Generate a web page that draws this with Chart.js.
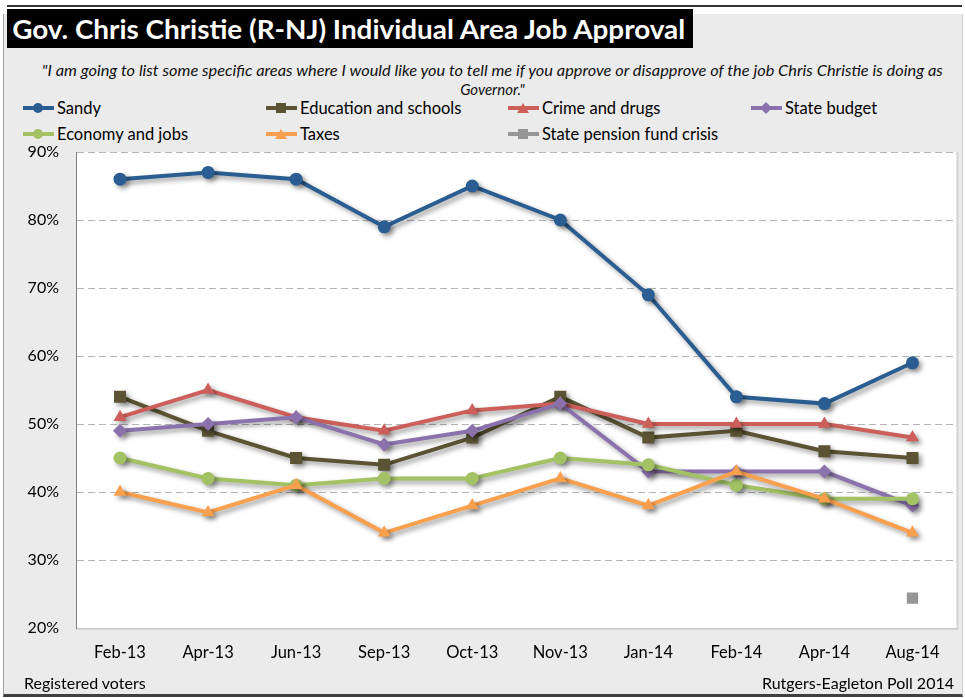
<!DOCTYPE html>
<html>
<head>
<meta charset="utf-8">
<script src="https://cdn.jsdelivr.net/npm/chart.js@4.4.1/dist/chart.umd.min.js"></script>
<style>
  body { margin: 0; background: #fff; font-family: Lato, sans-serif; }
  #wrap { position: relative; width: 965px; height: 698px; overflow: hidden; }
  #panel { position: absolute; left: 3px; top: 14px; width: 958px; height: 680px; background: #ebebeb;
           border-left: 1px solid #a0a0a0; border-right: 1px solid #d0d0d0; border-bottom: 3px solid #404040; }
  #topline { position: absolute; left: 7px; top: 5px; width: 955px; height: 2px; background: #333; }
  #title { position: absolute; left: 7px; top: 9px; width: 686px; height: 39px; background: #000; color: #fff;
           font-size: 27px; font-weight: bold; line-height: 39px; white-space: nowrap; }
  #title span { display: inline-block; padding-left: 5px; transform-origin: left center; }
  #sub { position: absolute; left: 0; top: 61px; width: 985px; text-align: center; font-style: italic;
         font-size: 15px; line-height: 19px; color: #111; }
  #sub span { display: inline-block; white-space: nowrap; }
  .leg { position: absolute; font-size: 16.5px; line-height: 18px; white-space: nowrap; color: #000; }
  .leg .ln { position: absolute; left: 0; top: 7px; width: 31px; height: 4px; }
  .leg .mk { position: absolute; left: 10px; top: 4px; width: 10px; height: 10px; }
  .leg .tx { position: absolute; left: 34px; top: 0; }
  .foot { position: absolute; top: 673px; font-size: 16px; color: #000; white-space: nowrap; }
  canvas { position: absolute; left: 0; top: 0; }
</style>
</head>
<body>
<div id="wrap">
  <div id="panel"></div>
  <div id="topline"></div>
  <div id="title"><span data-w="673">Gov. Chris Christie (R-NJ) Individual Area Job Approval</span></div>
  <div id="sub"><span data-w="901">"I am going to list some specific areas where I would like you to tell me if you approve or disapprove of the job Chris Christie is doing as</span><br><span>Governor."</span></div>
  <div id="legend"></div>
  <canvas id="chart" width="965" height="698"></canvas>
  <div class="foot" style="left:24px">Registered voters</div>
  <div class="foot" style="right:11px">Rutgers-Eagleton Poll 2014</div>
</div>
<script>
// datos
const categories = ['Feb-13', 'Apr-13', 'Jun-13', 'Sep-13', 'Oct-13', 'Nov-13', 'Jan-14', 'Feb-14', 'Apr-14', 'Aug-14'];
const sandy     = [86, 87, 86, 79, 85, 80, 69, 54, 53, 59];
const education = [54, 49, 45, 44, 48, 54, 48, 49, 46, 45];
const crime     = [51, 55, 51, 49, 52, 53, 50, 50, 50, 48];
const budget    = [49, 50, 51, 47, 49, 53, 43, 43, 43, 38];
const economy   = [45, 42, 41, 42, 42, 45, 44, 41, 39, 39];
const taxes     = [40, 37, 41, 34, 38, 42, 38, 43, 39, 34];
const pension   = [null, null, null, null, null, null, null, null, null, 24.4];
const yTicks = [20, 30, 40, 50, 60, 70, 80, 90];

const series = [
  { label: 'Sandy', data: sandy, color: '#2a5d91', style: 'circle', r: 6.5, order: 7 },
  { label: 'Education and schools', data: education, color: '#5b5333', style: 'rect', r: 8.5, order: 6 },
  { label: 'Crime and drugs', data: crime, color: '#cd5f5a', style: 'triangle', r: 7.5, order: 5 },
  { label: 'State budget', data: budget, color: '#8c72ad', style: 'rectRot', r: 7, order: 4 },
  { label: 'Economy and jobs', data: economy, color: '#a3c264', style: 'circle', r: 6.5, order: 3 },
  { label: 'Taxes', data: taxes, color: '#f9a04f', style: 'triangle', r: 7.5, order: 2 },
  { label: 'State pension fund crisis', data: pension, color: '#969696', style: 'rect', r: 8, order: 1, noLine: true }
];

// ajustar ancho de textos largos
document.querySelectorAll('[data-w]').forEach(el => {
  const w = el.getBoundingClientRect().width - (parseFloat(getComputedStyle(el).paddingLeft) || 0);
  const target = Number(el.dataset.w);
  if (w > 0) el.style.transform = 'scaleX(' + (target / w) + ')';
});

// leyenda
const legendPos = [[23, 99], [266, 99], [508, 99], [751, 99], [23, 125], [266, 125], [508, 125]];
const legend = document.getElementById('legend');
series.forEach((s, i) => {
  const item = document.createElement('div');
  item.className = 'leg';
  item.style.left = legendPos[i][0] + 'px';
  item.style.top = legendPos[i][1] + 'px';
  let mk = 'background:' + s.color + ';';
  if (s.style === 'circle') mk += 'border-radius:50%;';
  if (s.style === 'triangle') mk += 'clip-path:polygon(50% 0,100% 100%,0 100%);width:12px;left:9px;';
  if (s.style === 'rectRot') mk += 'transform:rotate(45deg) scale(0.85);';
  item.innerHTML = '<span class="ln" style="background:' + s.color + '"></span>' +
    '<span class="mk" style="' + mk + '"></span><span class="tx">' + s.label + '</span>';
  legend.appendChild(item);
});

const plotBg = {
  id: 'plotBg',
  beforeDraw(chart) {
    const { ctx, chartArea: a } = chart;
    ctx.save();
    ctx.fillStyle = '#fff';
    ctx.fillRect(a.left, a.top, a.right - a.left, a.bottom - a.top);
    ctx.strokeStyle = '#d4d4d4';
    ctx.lineWidth = 2;
    ctx.beginPath();
    ctx.moveTo(a.right + 1, a.top);
    ctx.lineTo(a.right + 1, a.bottom + 1);
    ctx.lineTo(a.left, a.bottom + 1);
    ctx.stroke();
    ctx.restore();
  }
};

const shadow = {
  id: 'shadow',
  beforeDatasetDraw(chart, args) {
    const ctx = chart.ctx;
    ctx.save();
    if (args.meta.label !== 'State pension fund crisis') {
      ctx.shadowColor = 'rgba(0,0,0,0.4)';
      ctx.shadowBlur = 5;
      ctx.shadowOffsetX = 3;
      ctx.shadowOffsetY = 3;
    }
  },
  afterDatasetDraw(chart) {
    chart.ctx.restore();
  }
};

Chart.defaults.font.family = 'Lato, sans-serif';
Chart.defaults.font.size = 16;
Chart.defaults.color = '#000';

new Chart(document.getElementById('chart'), {
  type: 'line',
  data: {
    labels: categories,
    datasets: series.map(s => ({
      label: s.label,
      data: s.data,
      order: s.order,
      borderColor: s.color,
      backgroundColor: s.color,
      pointBackgroundColor: s.color,
      pointBorderColor: s.color,
      pointBorderWidth: 0,
      pointStyle: s.style,
      pointRadius: s.r,
      borderWidth: 4,
      showLine: !s.noLine,
      tension: 0,
      fill: false
    }))
  },
  plugins: [plotBg, shadow],
  options: {
    responsive: false,
    animation: false,
    events: [],
    layout: { padding: { left: 0, top: 152, right: 8, bottom: 0 } },
    plugins: { legend: { display: false }, title: { display: false }, tooltip: { enabled: false } },
    scales: {
      x: {
        offset: true,
        grid: { display: false, drawTicks: false },
        border: { display: true, color: '#c8c8c8', width: 1 },
        ticks: { padding: 15, maxRotation: 0, autoSkip: false, font: { size: 16.5 } },
        afterFit: (scale) => { scale.height = 70; }
      },
      y: {
        min: 20,
        max: 90,
        afterBuildTicks: (scale) => { scale.ticks = yTicks.map(v => ({ value: v })); },
        grid: {
          drawTicks: false,
          color: (c) => c.tick && c.tick.value === 20 ? 'rgba(0,0,0,0)' : '#b4b4b4',
          lineWidth: 1
        },
        border: { display: true, color: '#7f7f7f', width: 1, dash: [7, 4] },
        ticks: { padding: 17, callback: (v) => v + '%' },
        afterFit: (scale) => { scale.width = 76; }
      }
    }
  }
});
</script>
</body>
</html>
